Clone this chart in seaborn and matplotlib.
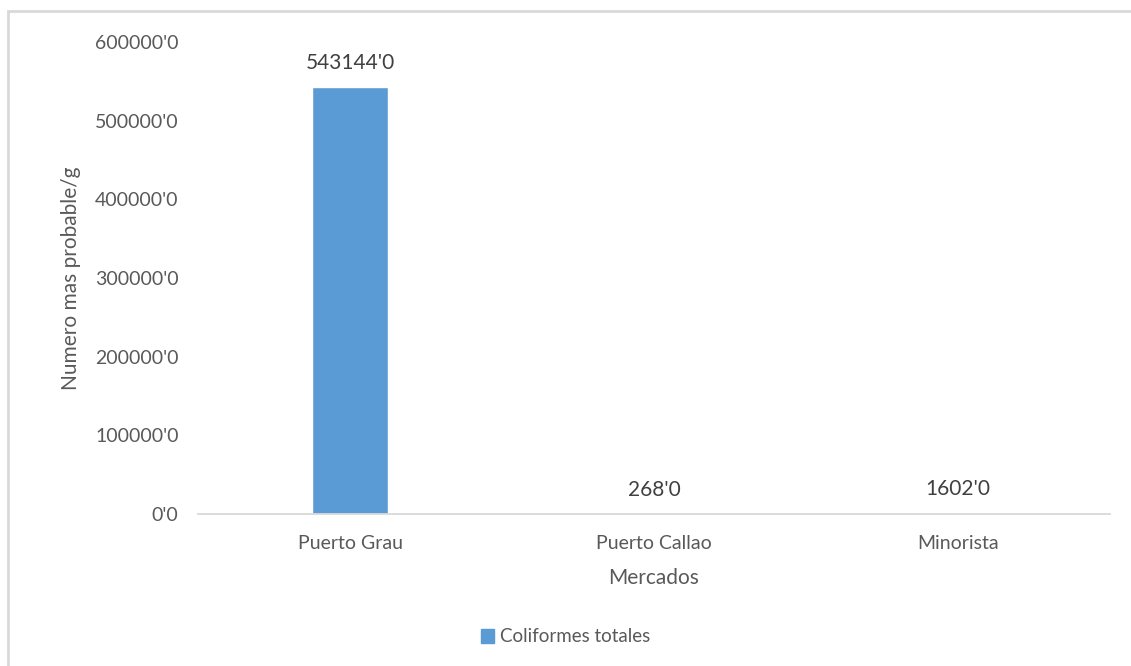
import matplotlib
matplotlib.use("Agg")
import matplotlib.pyplot as plt
import seaborn as sns
import pandas as pd
from matplotlib.patches import Rectangle
from matplotlib.ticker import FuncFormatter

mercados = ["Puerto Grau", "Puerto Callao", "Minorista"]
coliformes = [543144, 268, 1602]
serie = "Coliformes totales"

datos = pd.DataFrame({"Mercados": mercados, "valor": coliformes, "serie": serie})

sns.set_style("white")
plt.rcParams["font.family"] = ["Lato", "DejaVu Sans"]

gris = "#595959"
azul = "#5B9BD5"

fig = plt.figure(figsize=(11.31, 6.66), dpi=100)
ax = fig.add_axes([198 / 1131, 1 - 514 / 666, 912 / 1131, 472 / 666])

sns.barplot(data=datos, x="Mercados", y="valor", hue="serie", palette=[azul],
            width=0.25, saturation=1, ax=ax, legend=False)

ax.set_ylim(0, 600000)
ax.set_xlim(-0.5, 2.5)
ax.set_yticks(range(0, 600001, 100000))
ax.yaxis.set_major_formatter(FuncFormatter(lambda v, p: f"{int(v)}'0"))
ax.tick_params(axis="both", colors=gris, labelsize=14, length=0)
ax.tick_params(axis="y", pad=14)
ax.tick_params(axis="x", pad=15)

for s in ["top", "right", "left"]:
    ax.spines[s].set_visible(False)
ax.spines["bottom"].set_color("#D9D9D9")
ax.spines["bottom"].set_linewidth(1.3)

for i, v in enumerate(coliformes):
    ax.annotate(f"{v}'0", (i, v), xytext=(0, 10), textcoords="offset points",
                ha="center", va="bottom", fontsize=15, color="#404040")

ax.set_xlabel("Mercados", fontsize=15, color=gris, labelpad=12)
ax.set_ylabel("Numero mas probable/g", fontsize=15, color=gris, labelpad=10)

ax.legend(handles=[Rectangle((0, 0), 1, 1, color=azul)], labels=[serie],
          loc="center", bbox_to_anchor=(0.5, 1 - 637 / 666), bbox_transform=fig.transFigure,
          frameon=False, fontsize=13.5, labelcolor=gris, handlelength=0.7,
          handleheight=0.7, handletextpad=0.3)

fig.patches.append(Rectangle((7.5 / 1131, -0.1), 1.2, 1 - 11 / 666 + 0.1,
                             transform=fig.transFigure, fill=False,
                             edgecolor="#D9D9D9", linewidth=2))

fig.savefig("out.png", dpi=100)
